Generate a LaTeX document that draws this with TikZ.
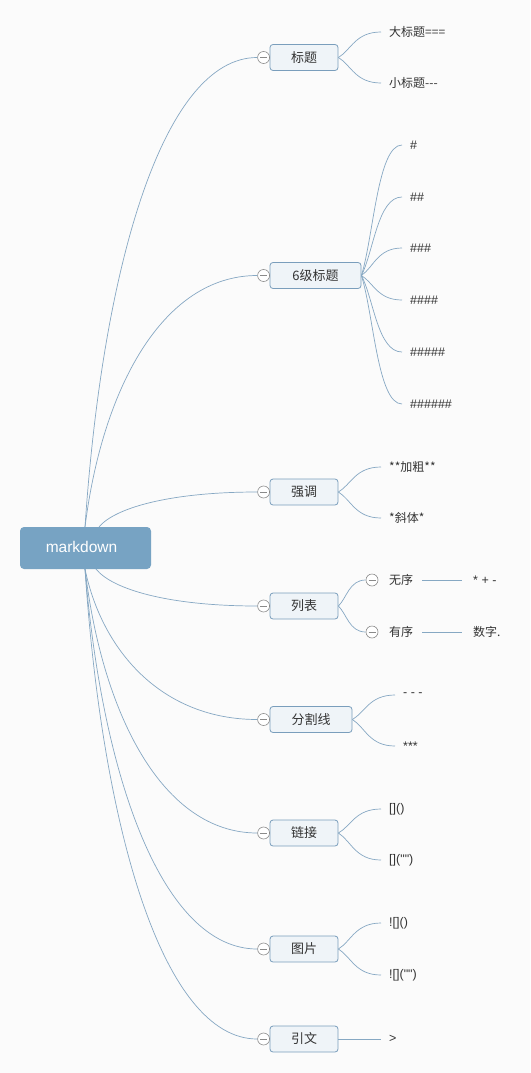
\documentclass[tikz,border=0pt]{standalone}
\usepackage{fontspec}
\setmainfont{Noto Sans CJK SC}[Ligatures=TeXOff]
\newfontfamily\rootfont{Liberation Sans}[Ligatures=TeXOff]
\newfontfamily\lat{Liberation Sans}[Ligatures=TeXOff]
\usetikzlibrary{calc}
\definecolor{bg}{HTML}{FBFBFB}
\definecolor{rootfill}{HTML}{77A3C3}
\definecolor{boxfill}{HTML}{EFF4F8}
\definecolor{boxdraw}{HTML}{7A9EBC}
\definecolor{linec}{HTML}{86A8C3}
\definecolor{txt}{HTML}{333333}
\definecolor{circ}{HTML}{8A8A8A}
\tikzset{
  rootbox/.style={fill=rootfill, rounded corners=4pt, minimum width=131pt, minimum height=42pt, inner sep=0pt},
  roottext/.style={inner sep=0pt, text=white, font=\rootfont\fontsize{15.5}{17}\selectfont},
  topicbox/.style={fill=boxfill, draw=boxdraw, line width=0.8pt, rounded corners=3pt, minimum height=26pt, inner sep=0pt, text=txt, font=\fontsize{13}{15}\selectfont},
  leaf/.style={anchor=west, inner xsep=0pt, inner ysep=0pt, text=txt, font=\fontsize{12}{14}\selectfont},
  latleaf/.style={leaf, font=\lat\fontsize{12.5}{14}\selectfont},
  conn/.style={draw=linec, line width=0.7pt},
  togg/.style={circle, draw=circ, fill=white, line width=0.6pt, minimum size=12pt, inner sep=0pt,
    path picture={\draw[circ, line width=0.6pt] ([xshift=-3.5pt]path picture bounding box.center) -- ([xshift=3.5pt]path picture bounding box.center);}},
}
\newcommand\rootcurve[2]{\draw[conn] let \p1=(#1), \p2=(#2.west) in (\p1) .. controls ({\x1+0.1*(\x2-\x1)},{\y1+0.55*(\y2-\y1)}) and ({\x1+0.45*(\x2-\x1)},\y2) .. (\p2);}
\newcommand\leafcurve[2]{\draw[conn] (#1) .. controls ($(#1)!0.3!(#2)$) and ($(#2)!0.6!(#2 -| #1)$) .. (#2);}
\begin{document}
\begin{tikzpicture}[x=1pt,y=-1pt]
\fill[bg] (0,0) rectangle (530,1073);
\useasboundingbox (0,0) rectangle (530,1073);

% root
\node[rootbox] (root) at (85.5,548) {};
\node[roottext] (roottxt) at (81.5,546.5) {markdown};
\coordinate (rt) at (85,527);
\coordinate (rt2) at (99,527);
\coordinate (rb) at (85,569);
\coordinate (rb2) at (96,569);

% topics
\node[topicbox, minimum width=68pt] (t1) at (304,57.5) {标题};
\node[topicbox, minimum width=91pt] (t2) at (315.5,275.5) {6级标题};
\node[topicbox, minimum width=68pt] (t3) at (304,492) {强调};
\node[topicbox, minimum width=68pt] (t4) at (304,606) {列表};
\node[topicbox, minimum width=82pt] (t5) at (311,719.5) {分割线};
\node[topicbox, minimum width=68pt] (t6) at (304,833) {链接};
\node[topicbox, minimum width=68pt] (t7) at (304,949) {图片};
\node[topicbox, minimum width=68pt] (t8) at (304,1039) {引文};

% toggles
\foreach \i in {1,...,8} { \node[togg] (c\i) at ($(t\i.west)+(-6,0)$) {}; }

% root connectors
\rootcurve{rt}{c1}
\rootcurve{rt}{c2}
\rootcurve{rt2}{c3}
\rootcurve{rb2}{c4}
\rootcurve{rb}{c5}
\rootcurve{rb}{c6}
\rootcurve{rb}{c7}
\rootcurve{rb}{c8}

% 标题
\coordinate (e11) at (381,32);
\coordinate (e12) at (381,83);
\node[leaf] (l11) at (389,32) {大标题===};
\node[leaf] (l12) at (389,83) {小标题---};
\leafcurve{t1.east}{e11}
\leafcurve{t1.east}{e12}

% 6级标题
\foreach \k/\y/\s in {1/145/\#, 2/197/\#\#, 3/248/\#\#\#, 4/300/\#\#\#\#, 5/352/\#\#\#\#\#, 6/404/\#\#\#\#\#\#} {
  \coordinate (e2\k) at (402,\y);
  \node[latleaf] (l2\k) at (410,\y) {\s};
  \leafcurve{t2.east}{e2\k}
}

% 强调
\coordinate (e31) at (381,467);
\coordinate (e32) at (381,518);
\node[leaf] (l31) at (389,467) {**加粗**};
\node[leaf] (l32) at (389,518) {*斜体*};
\leafcurve{t3.east}{e31}
\leafcurve{t3.east}{e32}

% 列表
\node[togg] (c41) at (372,580) {};
\node[togg] (c42) at (372,632) {};
\leafcurve{t4.east}{c41.west}
\leafcurve{t4.east}{c42.west}
\node[leaf] (l41) at (389,580) {无序};
\node[leaf] (l42) at (389,632) {有序};
\node[latleaf] (m41) at (473,580) {* + -};
\node[leaf] (m42) at (473,632) {数字.};
\draw[conn] (422,580) -- (462,580);
\draw[conn] (422,632) -- (462,632);

% 分割线
\coordinate (e51) at (395,695);
\coordinate (e52) at (395,746);
\node[latleaf] (l51) at (403,695) {- - -};
\node[latleaf] (l52) at (403,746) {***};
\leafcurve{t5.east}{e51}
\leafcurve{t5.east}{e52}

% 链接
\coordinate (e61) at (381,809);
\coordinate (e62) at (381,860);
\node[latleaf] (l61) at (389,809) {[]()};
\node[latleaf] (l62) at (389,860) {[]("")};
\leafcurve{t6.east}{e61}
\leafcurve{t6.east}{e62}

% 图片
\coordinate (e71) at (381,923);
\coordinate (e72) at (381,975);
\node[latleaf] (l71) at (389,923) {![]()};
\node[latleaf] (l72) at (389,975) {![]("")};
\leafcurve{t7.east}{e71}
\leafcurve{t7.east}{e72}

% 引文
\coordinate (e81) at (381,1039);
\node[latleaf] (l81) at (389,1039) {>};
\draw[conn] (t8.east) -- (e81);
\end{tikzpicture}
\end{document}
